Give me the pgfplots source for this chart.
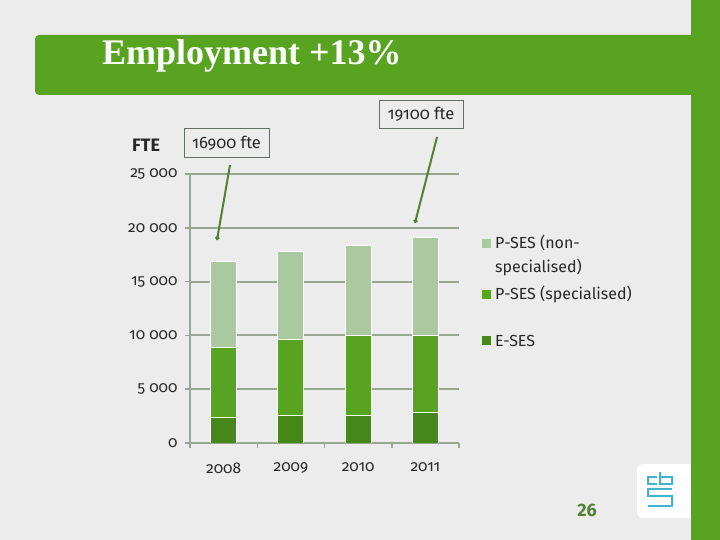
\documentclass[border=0pt]{standalone}
\usepackage{fontspec}
\setmainfont{Fira Sans}[Numbers=OldStyle]
\newfontfamily\titlefont{Liberation Serif}
\usepackage{pgfplots}
\pgfplotsset{compat=1.18}
\usetikzlibrary{arrows.meta}
\definecolor{slidebg}{RGB}{236,236,236}
\definecolor{cbsgreen}{RGB}{88,164,32}
\definecolor{gridc}{RGB}{152,166,146}
\definecolor{eses}{RGB}{70,135,25}
\definecolor{pspec}{RGB}{88,163,34}
\definecolor{pnon}{RGB}{171,201,161}
\definecolor{boxc}{RGB}{100,110,100}
\definecolor{arrowc}{RGB}{80,130,50}
\definecolor{txt}{RGB}{40,40,40}
\definecolor{logoc}{RGB}{60,180,210}

\begin{document}
\begin{tikzpicture}[x=1pt,y=1pt]
\path[use as bounding box, fill=slidebg] (0,0) rectangle (720,540);
% slide frame
\fill[cbsgreen, rounded corners=4pt] (35,445) rectangle (705,505);
\fill[cbsgreen] (691,0) rectangle (720,540);
\node[anchor=base west, text=white, inner sep=0pt,
      font=\titlefont\bfseries\fontsize{36}{39}\selectfont] at (102,475) {Employment +13\%};

\begin{axis}[
  at={(190pt,97pt)}, anchor=south west,
  scale only axis, width=269pt, height=269pt,
  ybar stacked, bar width=26pt,
  xmin=-0.5, xmax=3.5, ymin=0, ymax=25000,
  enlarge x limits=false,
  scaled y ticks=false,
  axis lines*=left,
  axis line style={draw=gridc, line width=2pt, -},
  ymajorgrids, grid style={gridc, line width=2pt},
  ytick={0,5000,10000,15000,20000,25000},
  yticklabels={0,{5 000},{10 000},{15 000},{20 000},{25 000}},
  xtick={0,1,2,3},
  xticklabels={2008,2009,2010,2011},
  minor xtick={-0.5,0.5,1.5,2.5,3.5},
  tick align=outside,
  major tick length=5pt, minor tick length=5pt,
  major x tick style={draw=none},
  tick style={gridc, line width=1.5pt},
  ticklabel style={font=\fontsize{15.5}{17}\selectfont, text=txt},
  xticklabel style={yshift=-11pt},
  yticklabel style={xshift=-4pt},
  every axis plot/.append style={draw=white, line width=0.8pt},
]
% E-SES, P-SES (specialised), P-SES (non-specialised)
\addplot[fill=eses] coordinates {(0,2400) (1,2600) (2,2600) (3,2800)};
\addplot[fill=pspec] coordinates {(0,6500) (1,7000) (2,7400) (3,7200)};
\addplot[fill=pnon] coordinates {(0,8000) (1,8200) (2,8400) (3,9100)};
\end{axis}

% legend
\begin{scope}[every node/.style={anchor=west, inner sep=0pt, text=txt,
    font=\fontsize{16}{18}\selectfont}]
\fill[pnon] (482,292) rectangle (491,301);
\node at (495,297) {P-SES (non-};
\node at (495,273) {specialised)};
\fill[pspec] (482,241) rectangle (491,250);
\node at (495,246) {P-SES (specialised)};
\fill[eses] (482,195) rectangle (491,204);
\node at (495,199) {E-SES};
\end{scope}

% y axis title and annotations
\node[font=\bfseries\fontsize{18}{20}\selectfont, text=txt] at (146,395) {FTE};
\node[draw=boxc, line width=0.8pt, fill=slidebg, minimum width=85pt, minimum height=29pt,
      font=\fontsize{16.5}{18}\selectfont, text=txt] at (226.5,397) {16900 fte};
\node[draw=boxc, line width=0.8pt, fill=slidebg, minimum width=84pt, minimum height=28pt,
      font=\fontsize{16.5}{18}\selectfont, text=txt] at (421,426) {19100 fte};
\draw[arrowc, line width=2pt, -{Circle[length=4pt]}] (230,375) -- (217,300);
\draw[arrowc, line width=2pt, -{Circle[length=4pt]}] (437,403) -- (415,317);

% page number and logo
\node[font=\bfseries\fontsize{18}{20}\selectfont, text=arrowc] at (587,30) {\addfontfeatures{Numbers=Lining}26};
\fill[white, rounded corners=6pt] (637,22) rectangle (698,76);
\fill[cbsgreen] (691,0) rectangle (720,540);
\draw[logoc, line width=1.8pt]
  (657,63) -- (648,63) -- (648,56) -- (657,56)
  (660,68) -- (660,56) -- (672,56) -- (672,63) -- (660,63)
  (672,51) -- (648,51) -- (648,44) -- (672,44) -- (672,34) -- (648,34);
\end{tikzpicture}
\end{document}
